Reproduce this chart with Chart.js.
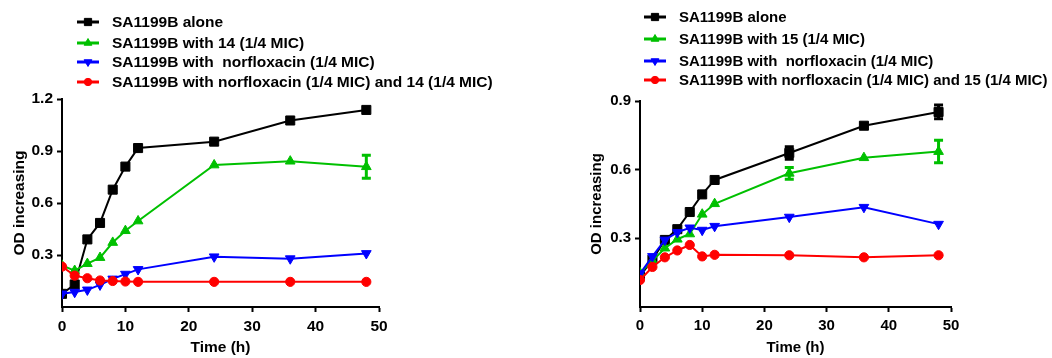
<!DOCTYPE html>
<html>
<head>
<meta charset="utf-8">
<script src="https://cdn.jsdelivr.net/npm/chart.js@4.4.1/dist/chart.umd.min.js"></script>
<style>
	html, body { margin: 0; padding: 0; background: #fff; }
	#wrap { position: relative; width: 1052px; height: 358px; }
	.box { position: absolute; top: 0; height: 358px; }
	#leftBox { left: 0; width: 530px; }
	#rightBox { left: 530px; width: 522px; }
</style>
</head>
<body>
<div id="wrap">
	<div class="box" id="leftBox"><canvas id="chartLeft" width="530" height="358"></canvas></div>
	<div class="box" id="rightBox"><canvas id="chartRight" width="522" height="358"></canvas></div>
</div>
<script>
const timePoints = [0, 2, 4, 6, 8, 10, 12, 24, 36, 48];

// left panel: compound 14
const leftLabels = [
	"SA1199B alone",
	"SA1199B with 14 (1/4 MIC)",
	"SA1199B with  norfloxacin (1/4 MIC)",
	"SA1199B with norfloxacin (1/4 MIC) and 14 (1/4 MIC)",
];
const leftAlone = [0.076, 0.13, 0.39, 0.485, 0.677, 0.81, 0.917, 0.954, 1.076, 1.137];
const leftCompound = [0.24, 0.21, 0.25, 0.285, 0.372, 0.44, 0.496, 0.819, 0.841, 0.809];
const leftNorflox = [0.076, 0.086, 0.099, 0.128, 0.162, 0.19, 0.217, 0.29, 0.279, 0.309];
const leftCombo = [0.233, 0.181, 0.166, 0.153, 0.15, 0.147, 0.145, 0.145, 0.145, 0.145];
const leftCompoundErr = [0, 0, 0, 0, 0, 0, 0, 0, 0, 0.066];

// right panel: compound 15
const rightLabels = [
	"SA1199B alone",
	"SA1199B with 15 (1/4 MIC)",
	"SA1199B with  norfloxacin (1/4 MIC)",
	"SA1199B with norfloxacin (1/4 MIC) and 15 (1/4 MIC)",
];
const rightAlone = [0.135, 0.207, 0.293, 0.34, 0.415, 0.492, 0.555, 0.673, 0.792, 0.852];
const rightCompound = [0.149, 0.202, 0.257, 0.296, 0.319, 0.405, 0.451, 0.584, 0.652, 0.679];
const rightNorflox = [0.146, 0.221, 0.293, 0.326, 0.346, 0.336, 0.353, 0.393, 0.436, 0.362];
const rightCombo = [0.118, 0.175, 0.217, 0.247, 0.271, 0.221, 0.228, 0.226, 0.217, 0.226];
const rightAloneErr = [0, 0, 0, 0, 0, 0, 0, 0.027, 0, 0.03];
const rightCompoundErr = [0, 0, 0, 0, 0, 0, 0, 0.026, 0, 0.049];

const seriesStyles = [
	{ color: "#000000", pointStyle: "rect", radius: 6.4, rotation: 0 },
	{ color: "#00c000", pointStyle: "triangle", radius: 5.6, rotation: 0 },
	{ color: "#0000ff", pointStyle: "triangle", radius: 5.6, rotation: 180 },
	{ color: "#ff0000", pointStyle: "circle", radius: 4.6, rotation: 0 },
];

const fontFamily = "'Liberation Sans', Arial, sans-serif";
Chart.defaults.font.family = fontFamily;
Chart.defaults.font.weight = "bold";
Chart.defaults.color = "#000";

const errorBarPlugin = {
	id: "errorBars",
	afterDatasetsDraw(chart) {
		const ctx = chart.ctx;
		const xScale = chart.scales.x;
		const yScale = chart.scales.y;
		ctx.save();
		chart.data.datasets.forEach((ds) => {
			if (!ds.errors) return;
			ds.data.forEach((pt, i) => {
				const err = ds.errors[i];
				if (!err) return;
				const px = xScale.getPixelForValue(pt.x);
				const top = yScale.getPixelForValue(pt.y + err);
				const bottom = yScale.getPixelForValue(pt.y - err);
				ctx.strokeStyle = ds.borderColor;
				ctx.lineWidth = 3;
				ctx.beginPath();
				ctx.moveTo(px, top);
				ctx.lineTo(px, bottom);
				ctx.moveTo(px - 4.5, top);
				ctx.lineTo(px + 4.5, top);
				ctx.moveTo(px - 4.5, bottom);
				ctx.lineTo(px + 4.5, bottom);
				ctx.stroke();
			});
		});
		ctx.restore();
	},
};

const legendPlugin = {
	id: "topLegend",
	afterDraw(chart, args, opts) {
		const ctx = chart.ctx;
		ctx.save();
		chart.data.datasets.forEach((ds, i) => {
			const y = opts.rows[i];
			ctx.strokeStyle = ds.borderColor;
			ctx.fillStyle = ds.borderColor;
			ctx.lineWidth = 3;
			ctx.beginPath();
			ctx.moveTo(opts.x, y);
			ctx.lineTo(opts.x + 22, y);
			ctx.stroke();
			ctx.lineWidth = 1;
			Chart.helpers.drawPoint(ctx, {
				pointStyle: ds.pointStyle,
				radius: ds.pointRadius * 0.8,
				rotation: ds.pointRotation,
				borderWidth: 1,
			}, opts.x + 11, y);
			ctx.fillStyle = "#000";
			ctx.font = "bold " + opts.fontSize + "px " + fontFamily;
			ctx.textBaseline = "middle";
			ctx.fillText(ds.label, opts.x + 35, y + 1);
		});
		ctx.restore();
	},
};

function buildDatasets(labels, series, errors) {
	return series.map((values, i) => {
		const style = seriesStyles[i];
		return {
			label: labels[i],
			data: values.map((v, j) => ({ x: timePoints[j], y: v })),
			errors: errors[i],
			borderColor: style.color,
			backgroundColor: style.color,
			borderWidth: 2,
			pointStyle: style.pointStyle,
			pointRadius: style.radius,
			pointRotation: style.rotation,
			pointBorderWidth: 1,
			tension: 0,
			order: 3 - i,
		};
	});
}

function hideZero(c) {
	return c.tick && c.tick.value === 0 ? "rgba(0,0,0,0)" : "#000";
}

function initChart(canvasId, datasets, yMax, padLeft, padTop, padRight, fontSize, legend) {
	const font = { size: fontSize, weight: "bold" };
	return new Chart(document.getElementById(canvasId), {
		type: "line",
		data: { datasets: datasets },
		plugins: [errorBarPlugin, legendPlugin],
		options: {
			responsive: false,
			animation: false,
			layout: { padding: { left: padLeft, top: padTop, right: padRight, bottom: 0 } },
			plugins: {
				legend: { display: false },
				tooltip: { enabled: false },
				topLegend: Object.assign({ fontSize: fontSize }, legend),
			},
			scales: {
				x: {
					type: "linear",
					min: 0,
					max: 50,
					afterFit(scale) { scale.height = 51; },
					ticks: { stepSize: 10, padding: 5, maxRotation: 0, font: font },
					grid: { drawOnChartArea: false, tickLength: 5, tickWidth: 2, tickColor: "#000" },
					border: { color: "#000", width: 2 },
					title: { display: true, text: "Time (h)", font: font, padding: { top: 0, bottom: 1 } },
				},
				y: {
					min: 0,
					max: yMax,
					afterFit(scale) { scale.width = 62; },
					ticks: {
						stepSize: 0.3,
						padding: 4,
						font: font,
						callback: (v) => (v === 0 ? "" : v.toFixed(1)),
					},
					grid: { drawOnChartArea: false, tickLength: 5, tickWidth: 2, tickColor: hideZero },
					border: { color: "#000", width: 2 },
					title: { display: true, text: "OD increasing", font: font, padding: { top: 10, bottom: 0 } },
				},
			},
		},
	});
}

initChart(
	"chartLeft",
	buildDatasets(leftLabels, [leftAlone, leftCompound, leftNorflox, leftCombo], [null, leftCompoundErr, null, null]),
	1.2, 0, 99, 151, 15.5,
	{ x: 77, rows: [22, 43, 62, 82] }
);

initChart(
	"chartRight",
	buildDatasets(rightLabels, [rightAlone, rightCompound, rightNorflox, rightCombo], [rightAloneErr, rightCompoundErr, null, null]),
	0.9, 48, 101, 101, 15,
	{ x: 114, rows: [17, 39, 61, 80] }
);
</script>
</body>
</html>
